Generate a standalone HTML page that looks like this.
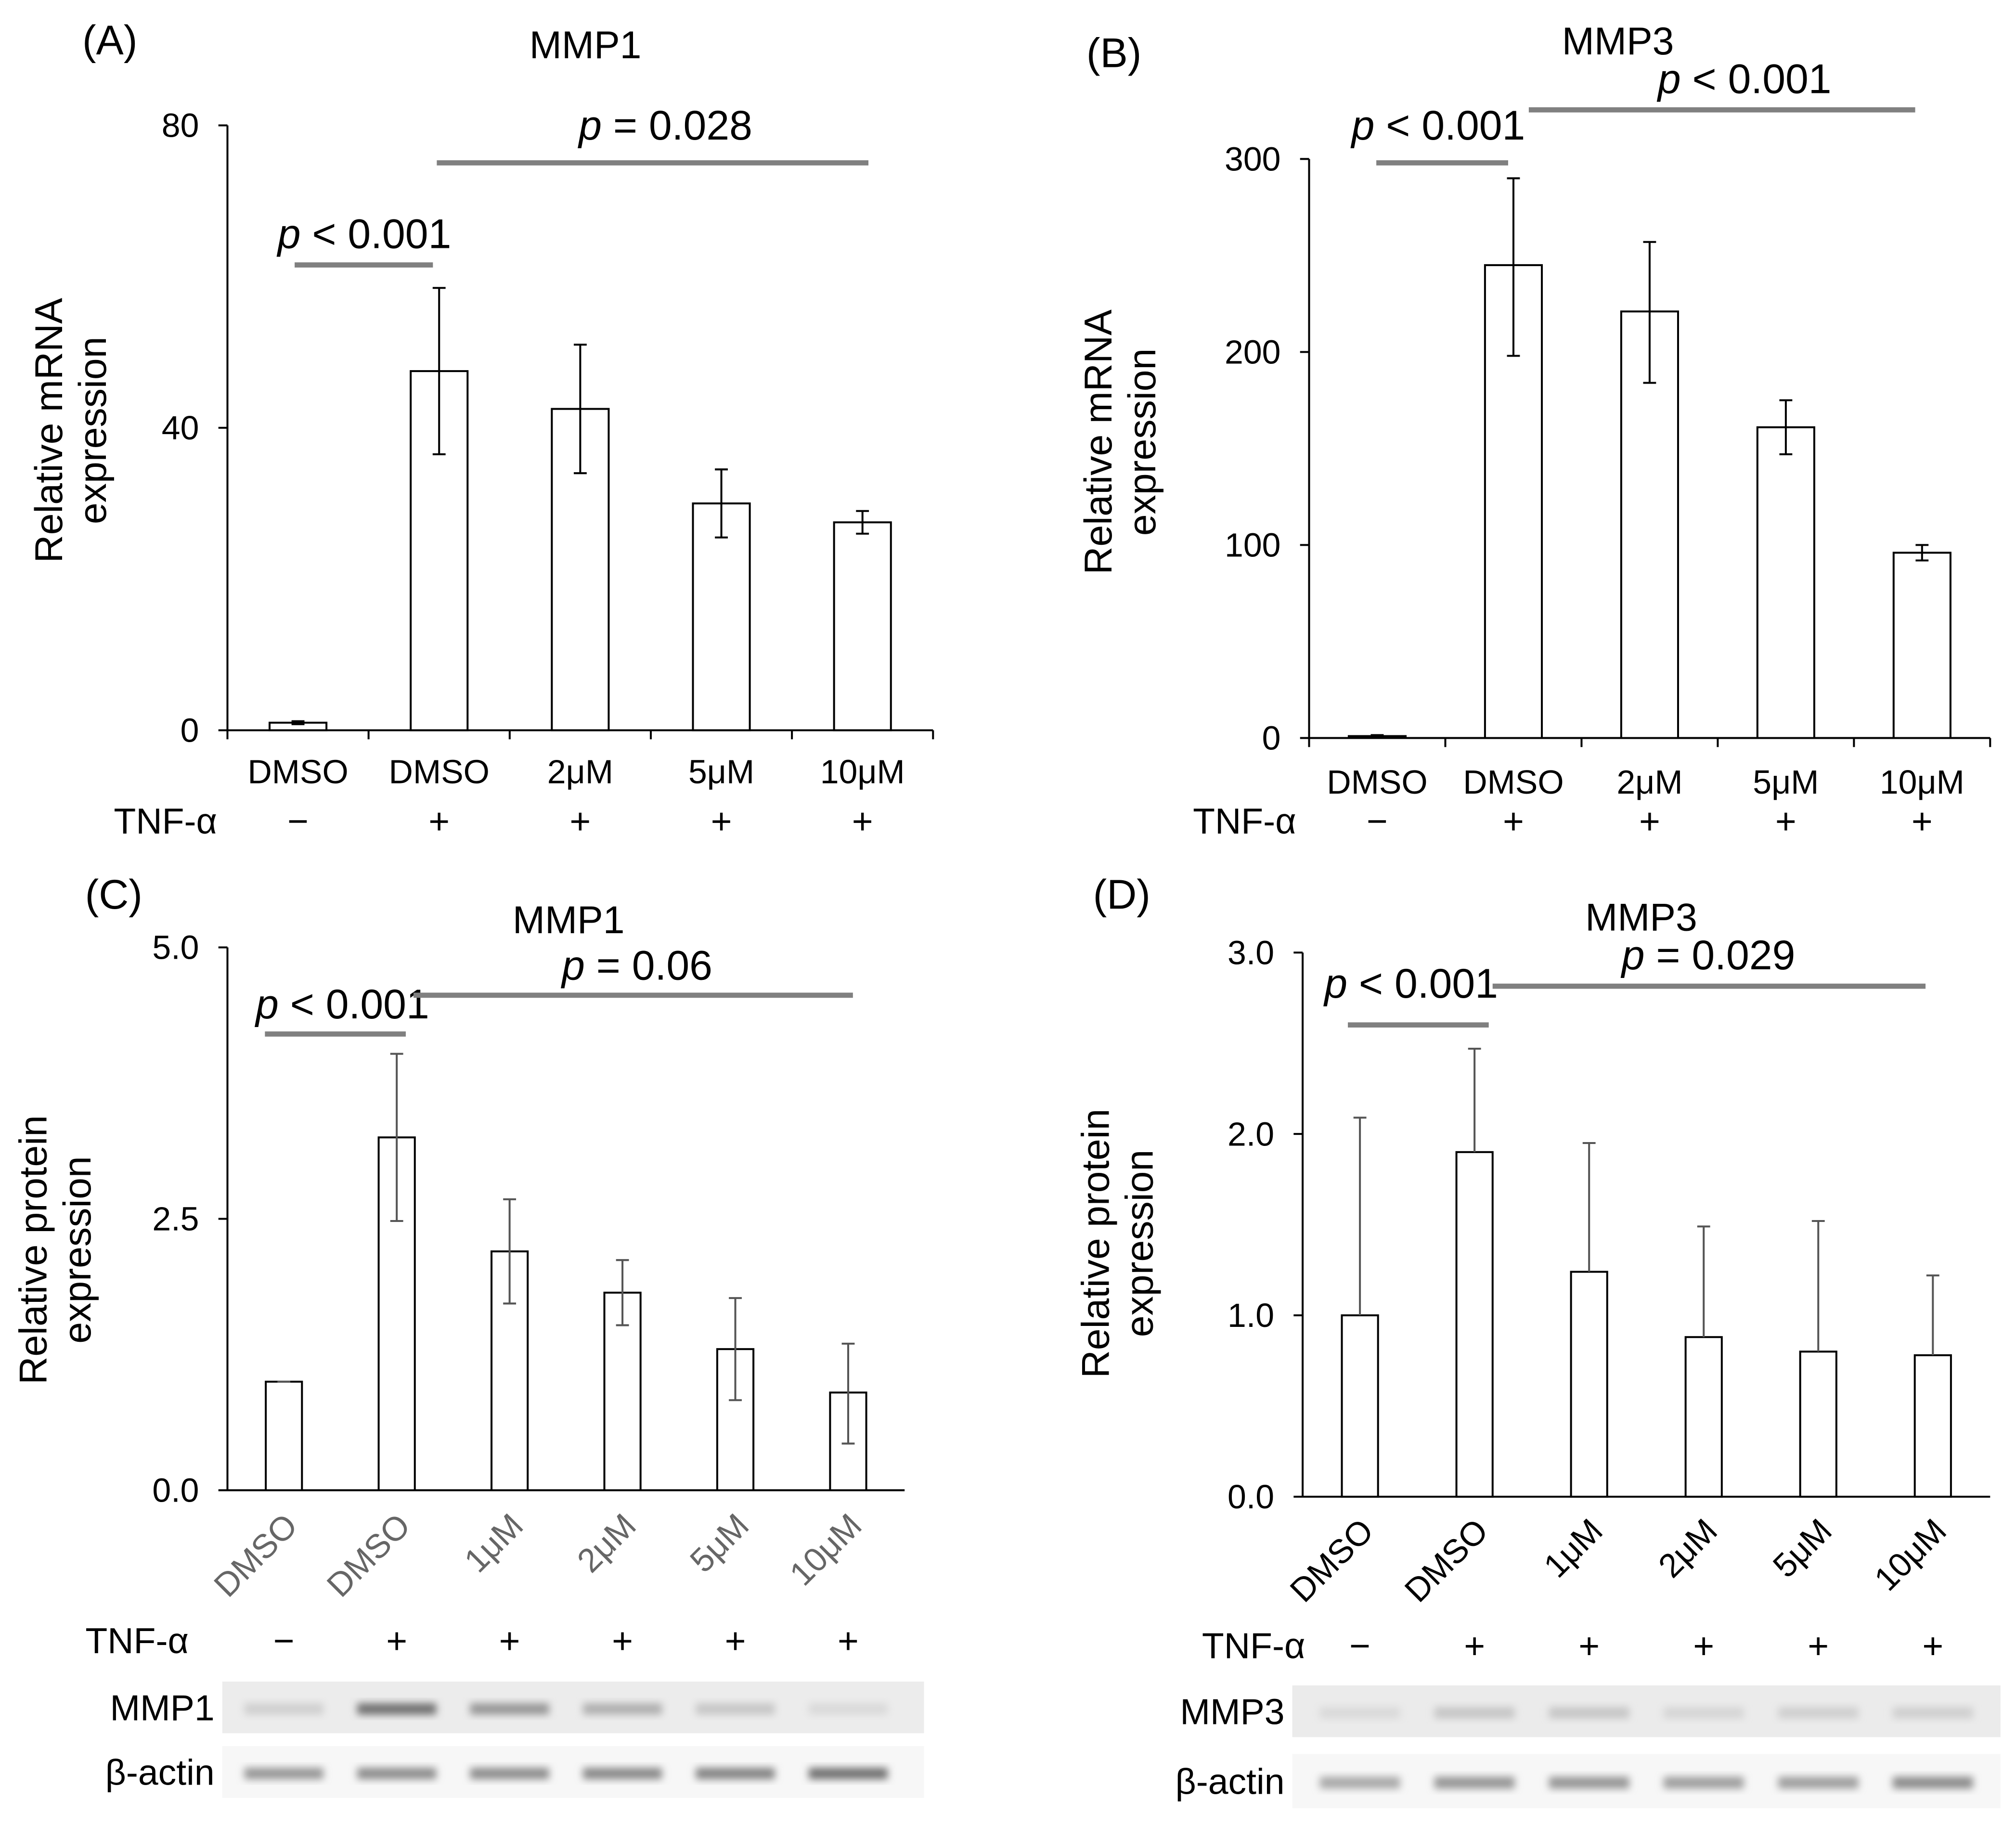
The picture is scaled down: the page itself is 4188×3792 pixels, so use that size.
<!DOCTYPE html>
<html><head><meta charset="utf-8"><style>
html,body{margin:0;padding:0;background:#fff;}
svg{display:block;font-family:"Liberation Sans",sans-serif;}
</style></head><body>
<svg id="fig" xmlns="http://www.w3.org/2000/svg" width="4188" height="3792" viewBox="0 0 1560 1412" preserveAspectRatio="none">
<defs>
<filter id="blur" x="-20%" y="-50%" width="140%" height="200%"><feGaussianBlur stdDeviation="3"/></filter>
</defs>
</svg>
<script>
// Panel A data
const aCats = ["DMSO","DMSO","2μM","5μM","10μM"];
const aTnf = ["−","+","+","+","+"];
const aVals = [1, 47.5, 42.5, 30, 27.5];
const aHi = [1.2, 58.5, 51, 34.5, 29];
const aLo = [0.8, 36.5, 34, 25.5, 26];
const aTicks = [0, 40, 80];
// Panel B data
const bCats = ["DMSO","DMSO","2μM","5μM","10μM"];
const bTnf = ["−","+","+","+","+"];
const bVals = [1, 245, 221, 161, 96];
const bHi = [1.5, 290, 257, 175, 100];
const bLo = [0.5, 198, 184, 147, 92];
const bTicks = [0, 100, 200, 300];
// Panel C data
const cCats = ["DMSO","DMSO","1μM","2μM","5μM","10μM"];
const cTnf = ["−","+","+","+","+","+"];
const cVals = [1, 3.25, 2.2, 1.82, 1.3, 0.9];
const cHi = [1, 4.02, 2.68, 2.12, 1.77, 1.35];
const cLo = [1, 2.48, 1.72, 1.52, 0.83, 0.43];
const cTicks = ["0.0","2.5","5.0"];
const cBand1 = [0.25, 0.75, 0.55, 0.42, 0.3, 0.2];
const cBand2 = [0.55, 0.6, 0.6, 0.62, 0.65, 0.75];
// Panel D data
const dCats = ["DMSO","DMSO","1μM","2μM","5μM","10μM"];
const dTnf = ["−","+","+","+","+","+"];
const dVals = [1.0, 1.9, 1.24, 0.88, 0.8, 0.78];
const dHi = [2.09, 2.47, 1.95, 1.49, 1.52, 1.22];
const dTicks = ["0.0","1.0","2.0","3.0"];
const dBand1 = [0.2, 0.3, 0.3, 0.22, 0.25, 0.25];
const dBand2 = [0.45, 0.55, 0.55, 0.5, 0.5, 0.6];

const svg = document.getElementById('fig');
const NS = "http://www.w3.org/2000/svg";
function mk(tag, attrs, parent, text){
  const e = document.createElementNS(NS, tag);
  for (const k in attrs) e.setAttribute(k, attrs[k]);
  if (text !== undefined) e.textContent = text;
  (parent||svg).appendChild(e);
  return e;
}
function txt(x,y,s,size,parent,anchor,fill,extra){
  const a = {x:x,y:y,'font-size':size,'text-anchor':anchor||'middle',fill:fill||'#000'};
  if (extra) for (const k in extra) a[k]=extra[k];
  return mk('text',a,parent,s);
}
function pText(x,y,rest,parent){
  const t = mk('text',{x:x,y:y,'font-size':32,'text-anchor':'middle'},parent);
  const i = document.createElementNS(NS,'tspan'); i.setAttribute('font-style','italic'); i.textContent='p'; t.appendChild(i);
  const r = document.createElementNS(NS,'tspan'); r.textContent=' '+rest; t.appendChild(r);
  
  
  return t;
}

function panel(o){
  const g = mk('g',{});
  
  
  const y = v => o.y0 - (v - 0) / o.ymax * (o.y0 - o.ytop);
  const n = o.vals.length;
  const step = (o.x1 - o.x0) / n;
  const cx = i => o.x0 + step*(i+0.5);
  // panel letter + title
  let t = txt(o.letterX, o.letterY, o.letter, 32, g, 'middle');
   
  t = txt(o.titleX, o.titleY, o.title, 30, g);
   
  // axes
  let l = mk('line',{x1:o.x0,y1:o.ytop,x2:o.x0,y2:o.y0,stroke:'#000','stroke-width':1.5},g);
   
  l = mk('line',{x1:o.x0,y1:o.y0,x2:o.x1,y2:o.y0,stroke:'#000','stroke-width':1.5},g);
   
  o.ticks.forEach(tk=>{
    const v = parseFloat(tk);
    mk('line',{x1:o.x0-7,y1:y(v),x2:o.x0,y2:y(v),stroke:'#000','stroke-width':1.5},g);
    const tt = txt(o.x0-22, y(v)+9, tk, 26, g, 'end');
     
  });
  if (o.xTicks) for (let i=0;i<=n;i++){
    mk('line',{x1:o.x0+step*i,y1:o.y0,x2:o.x0+step*i,y2:o.y0+7,stroke:'#000','stroke-width':1.5},g);
  }
  // y label
  const yl = mk('text',{transform:`translate(${o.ylabX},${o.ylabY}) rotate(-90)`,'font-size':30,'text-anchor':'middle'},g);
   
  o.ylab.forEach((s,k)=>{ const ts=document.createElementNS(NS,'tspan'); ts.setAttribute('x',0); ts.setAttribute('y',k*34); ts.textContent=s; yl.appendChild(ts); });
  // bars
  for (let i=0;i<n;i++){
    const b = mk('rect',{x:cx(i)-o.bw/2,y:y(o.vals[i]),width:o.bw,height:o.y0-y(o.vals[i]),fill:'#fff',stroke:'#000','stroke-width':1.5},g);
     
    const ec = o.errColor || '#000';
    const lo = o.lo ? o.lo[i] : o.vals[i];
    const e = mk('path',{d:`M${cx(i)},${y(o.hi[i])}V${y(lo)}M${cx(i)-5},${y(o.hi[i])}H${cx(i)+5}`+(o.lo?`M${cx(i)-5},${y(lo)}H${cx(i)+5}`:''),stroke:ec,'stroke-width':1.5,fill:'none'},g);
     
    // category labels
    let cl;
    if (o.rot){
      cl = txt(0,0,o.cats[i],26,g,'end',o.catColor,{transform:`translate(${cx(i)+12},${o.catY}) rotate(-45)`});
    } else cl = txt(cx(i), o.catY, o.cats[i], 26, g);
     
    const tn = txt(cx(i), o.tnfY, o.tnf[i], 28, g);
     
  }
  const tl = txt(o.tnfX, o.tnfY, 'TNF-α', 28, g, 'end');
   
  // significance
  o.sig.forEach(s=>{
    const sl = mk('line',{x1:s[0],y1:s[2],x2:s[1],y2:s[2],stroke:'#808080','stroke-width':4},g);
     
    pText(s[3],s[4],s[5],g);
  });
  // blots
  if (o.blots){
    o.blots.forEach((bl,k)=>{
      const bg = mk('g',{},g);
       
      mk('rect',{x:o.blotX0,y:bl.y,width:o.blotX1-o.blotX0,height:bl.h,fill:bl.bg},bg);
      for (let i=0;i<n;i++){
        const c = Math.round(255*(1-bl.int[i]*0.75));
        mk('rect',{x:cx(i)-step*0.35,y:bl.y+bl.h*0.42,width:step*0.7,height:bl.h*0.22,fill:`rgb(${c},${c},${c})`,filter:'url(#blur)'},bg);
      }
      const ll = txt(o.blotX0-6, bl.y+bl.h/2+10, bl.label, 28, g, 'end');
       
    });
  }
}

panel({name:'panel-a',letter:'(A)',letterX:85,letterY:42,title:'MMP1',titleX:453,titleY:45,
  x0:176,x1:722,y0:565,ytop:97,ymax:80,ticks:aTicks.map(String),xTicks:true,bw:44,
  vals:aVals,hi:aHi,lo:aLo,cats:aCats,tnf:aTnf,catY:606,tnfY:645,tnfX:168,
  ylab:['Relative mRNA','expression'],ylabX:48,ylabY:333,
  sig:[[228,335,205,282,192,'< 0.001'],[338,672,126,515,108,'= 0.028']]});

panel({name:'panel-b',letter:'(B)',letterX:862,letterY:52,title:'MMP3',titleX:1252,titleY:42,
  x0:1013,x1:1540,y0:571,ytop:123,ymax:300,ticks:bTicks.map(String),xTicks:true,bw:44,
  vals:bVals,hi:bHi,lo:bLo,cats:bCats,tnf:bTnf,catY:614,tnfY:645,tnfX:1003,
  ylab:['Relative mRNA','expression'],ylabX:860,ylabY:342,
  sig:[[1065,1167,126,1113,108,'< 0.001'],[1183,1482,85,1350,72,'< 0.001']]});

panel({name:'panel-c',letter:'(C)',letterX:88,letterY:703,title:'MMP1',titleX:440,titleY:722,
  x0:176,x1:700,y0:1153,ytop:733,ymax:5,ticks:cTicks,xTicks:false,bw:28,errColor:'#555',
  vals:cVals,hi:cHi,lo:cLo,cats:cCats,tnf:cTnf,catY:1182,rot:true,catColor:'#666',tnfY:1279,tnfX:146,
  ylab:['Relative protein','expression'],ylabX:36,ylabY:967,
  sig:[[205,314,800,265,788,'< 0.001'],[320,660,770,493,758,'= 0.06']],
  blotX0:172,blotX1:715,
  blots:[{label:'MMP1',y:1301,h:40,bg:'#ececec',int:cBand1},{label:'β-actin',y:1351,h:40,bg:'#f7f7f7',int:cBand2}]});

panel({name:'panel-d',letter:'(D)',letterX:868,letterY:703,title:'MMP3',titleX:1270,titleY:720,
  x0:1008,x1:1540,y0:1158,ytop:737,ymax:3,ticks:dTicks,xTicks:false,bw:28,errColor:'#555',
  vals:dVals,hi:dHi,cats:dCats,tnf:dTnf,catY:1186,rot:true,catColor:'#000',tnfY:1283,tnfX:1010,
  ylab:['Relative protein','expression'],ylabX:858,ylabY:962,
  sig:[[1043,1152,793,1092,772,'< 0.001'],[1155,1490,763,1322,750,'= 0.029']],
  blotX0:1000,blotX1:1548,
  blots:[{label:'MMP3',y:1304,h:40,bg:'#ebebeb',int:dBand1},{label:'β-actin',y:1357,h:42,bg:'#f7f7f7',int:dBand2}]});
</script>
</body></html>
